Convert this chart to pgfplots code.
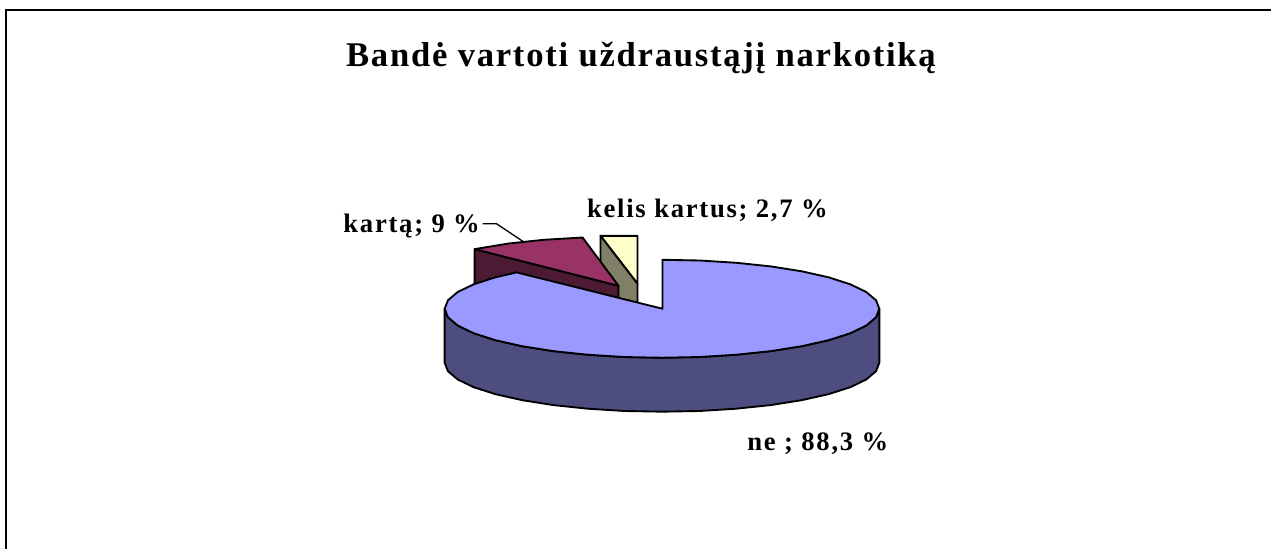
\documentclass[border=0pt]{standalone}
\usepackage{fontspec}
\setmainfont{Liberation Serif}
\newfontfamily\titlefont[LetterSpace=5]{Liberation Serif}
\newfontfamily\labelfont[LetterSpace=6.5]{Liberation Serif}
\usepackage{pgfplots}
\pgfplotsset{compat=1.18}
\definecolor{pieblue}{HTML}{9999FF}
\definecolor{pieblueside}{HTML}{4D4D80}
\definecolor{piered}{HTML}{993366}
\definecolor{pieredside}{HTML}{4D1A33}
\definecolor{pieyellow}{HTML}{FFFFCC}
\definecolor{pieyellowside}{HTML}{808066}
\begin{document}
\begin{tikzpicture}[x=1pt,y=1pt]
  \begin{axis}[
      scale only axis,
      width=954pt, height=411.75pt,
      xmin=0, xmax=1272,
      ymin=0, ymax=549,
      y dir=reverse,
      axis lines=none,
      clip=false,
      every axis plot/.style={draw=black, line width=1.4pt, line join=round},
    ]
    % keeps the page at the full size
    \path (axis cs:0,0) rectangle (axis cs:1272,549);

    % yellow slice
    \addplot[fill=pieyellow] coordinates {(601,236) (638,236) (638,284)} -- cycle;
    \addplot[fill=pieyellowside] coordinates {(601,236) (638,284) (638,338) (601,290)} -- cycle;

    % red slice
    \addplot[fill=pieredside] coordinates {(475,249.3) (619,286) (619,340) (475,303)} -- cycle;
    \addplot[fill=piered] coordinates {(475,249.3) (509.8,243.6) (544.1,240) (583,237.7) (619,286)} -- cycle;

    % blue slice, side then top
    \addplot[fill=pieblueside] coordinates {
      (880,309) (876.7,317.5) (866.9,325.8) (850.9,333.5) (829.1,340.5) (802.3,346.5)
      (771.3,351.4) (736.9,355) (700.3,357.3) (662.5,358) (624.7,357.3) (588.1,355)
      (553.7,351.4) (522.7,346.5) (495.9,340.5) (474.1,333.5) (458.1,325.8) (448.3,317.5)
      (445,309) (445,363) (448.3,371.5) (458.1,379.8) (474.1,387.5) (495.9,394.5)
      (522.7,400.5) (553.7,405.4) (588.1,409) (624.7,411.3) (662.5,412) (700.3,411.3)
      (736.9,409) (771.3,405.4) (802.3,400.5) (829.1,394.5) (850.9,387.5) (866.9,379.8)
      (876.7,371.5) (880,363)
    } -- cycle;
    \addplot[fill=pieblue] coordinates {
      (663,309) (663,260) (700.3,260.7) (736.9,263) (771.3,266.6) (802.3,271.5) (829.1,277.5)
      (850.9,284.5) (866.9,292.2) (876.7,300.5) (880,309) (876.7,317.5) (866.9,325.8)
      (850.9,333.5) (829.1,340.5) (802.3,346.5) (771.3,351.4) (736.9,355) (700.3,357.3)
      (662.5,358) (624.7,357.3) (588.1,355) (553.7,351.4) (522.7,346.5) (495.9,340.5)
      (474.1,333.5) (458.1,325.8) (448.3,317.5) (445,309) (448.3,300.5) (458.1,292.2)
      (474.1,284.5) (495.9,277.5) (517,272.6)
    } -- cycle;

    % leader line
    \addplot[line width=1pt] coordinates {(483,224) (497,224) (524,242)};

    % frame, only left and top
    \draw[line width=1.5pt] (axis cs:6.5,549) -- (axis cs:6.5,10) -- (axis cs:1272,10);

    \node[anchor=base, font=\titlefont\bfseries\fontsize{26}{26}\selectfont] at (axis cs:641.5,67) {Bandė vartoti uždraustąjį narkotiką};
    \node[anchor=base, font=\labelfont\bfseries\fontsize{20}{20}\selectfont] at (axis cs:412,233) {kartą; 9 \%};
    \node[anchor=base, font=\labelfont\bfseries\fontsize{20}{20}\selectfont] at (axis cs:708,218) {kelis kartus; 2,7 \%};
    \node[anchor=base, font=\labelfont\bfseries\fontsize{20}{20}\selectfont] at (axis cs:818.5,451) {ne ; 88,3 \%};
  \end{axis}
\end{tikzpicture}
\end{document}
